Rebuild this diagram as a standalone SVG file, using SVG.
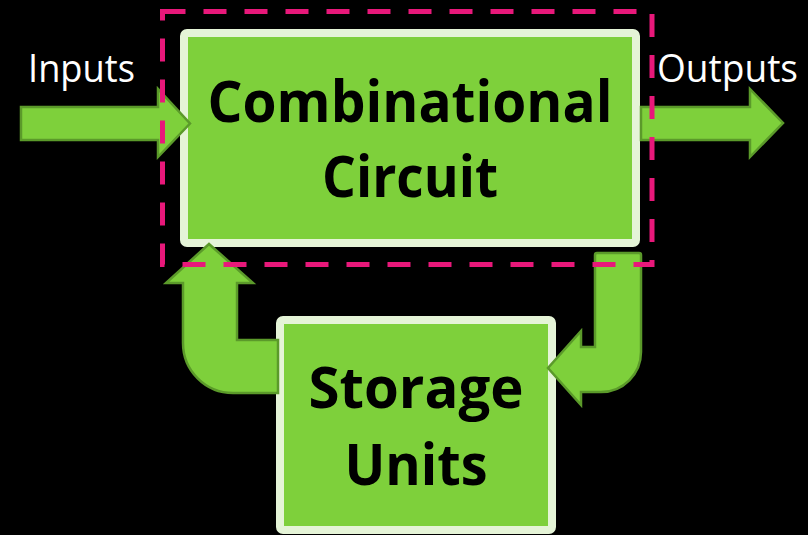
<svg xmlns="http://www.w3.org/2000/svg" width="808" height="535" viewBox="0 0 808 535">
<style>
.box{fill:#7ED03B;stroke:#E5F4D7;stroke-width:8}
.arr{fill:#7ED03B;stroke:#5B9A2A;stroke-width:2.5;stroke-linejoin:miter}
.lbl{font-family:"Open Sans","Noto Sans",sans-serif;fill:#FFFFFF;font-size:39px}
.big{font-family:"Open Sans","Noto Sans",sans-serif;font-weight:bold;fill:#000000;font-size:58px;text-anchor:middle}
.dash{fill:none;stroke:#E8187A;stroke-width:5;stroke-dasharray:23 18}
</style>
<rect x="0" y="0" width="808" height="535" fill="#000000"/>
<g id="comb">
<rect class="box" x="184" y="33" width="452" height="210" rx="3"/>
<text class="big" x="410" y="122" textLength="405" lengthAdjust="spacingAndGlyphs">Combinational</text>
<text class="big" x="410" y="197" textLength="176" lengthAdjust="spacingAndGlyphs">Circuit</text>
</g>
<g id="storage">
<rect class="box" x="280" y="320" width="272" height="210" rx="3"/>
<text class="big" x="416" y="408" textLength="215" lengthAdjust="spacingAndGlyphs">Storage</text>
<text class="big" x="416" y="485" textLength="143" lengthAdjust="spacingAndGlyphs">Units</text>
</g>
<g id="connectors">
<path class="arr" d="M21,107 H158 V89 L190,123.5 L158,157 V140 H21 Z"/>
<path class="arr" d="M641,107 H750 V89 L783,123 L750,157 V140 H641 Z"/>
<path class="arr" d="M278,340 H237 V283 H253 L209,244 L166,283 H183 V343 A50,50 0 0 0 233,393 H278 Z"/>
<path class="arr" d="M597,253 H639 Q641,253 641,255 V352 A40,40 0 0 1 601,392 H581 V405 L548,368 L581,331 V347 H595 V255 Q595,253 597,253 Z"/>
</g>
<g id="labels">
<text class="lbl" x="28" y="82" textLength="107" lengthAdjust="spacingAndGlyphs">Inputs</text>
<text class="lbl" x="657" y="82" textLength="141" lengthAdjust="spacingAndGlyphs">Outputs</text>
</g>
<g id="boundary">
<rect class="dash" x="162.5" y="11.5" width="489.5" height="253"/>
</g>
</svg>
